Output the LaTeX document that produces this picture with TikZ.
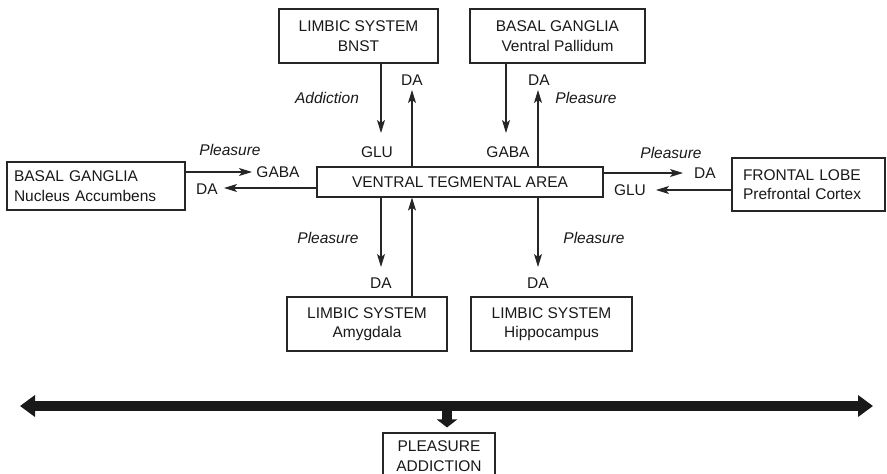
\documentclass[tikz,border=0pt]{standalone}
\usepackage{fontspec}
\setmainfont{Liberation Sans}
\usetikzlibrary{arrows.meta}
\begin{document}
\begin{tikzpicture}[x=1pt,y=-1pt,
  font=\fontsize{15.5}{19.5}\selectfont,
  box/.style={draw=black!85, line width=1.1pt, inner sep=0pt, align=center, text=black!90},
  lbl/.style={inner sep=0pt, text=black!90},
  itl/.style={lbl, font=\fontsize{15.5}{19.5}\selectfont\itshape},
  arr/.style={draw=black!85, line width=1.1pt, -{Stealth[length=13pt,width=8pt,inset=3pt]}},
  bar/.style={draw=black!90, line width=10pt},
]
\useasboundingbox (0,0) rectangle (887,474);
\fill[white] (0,0) rectangle (887,474);
\clip (0,0) rectangle (887,474);

% boxes
\node[box, minimum width=159pt, minimum height=54pt] (bnst) at (358.5,36) {LIMBIC SYSTEM\\BNST};
\node[box, minimum width=175pt, minimum height=54pt] (vp) at (557.5,36) {BASAL GANGLIA\\Ventral Pallidum};
\node[box, minimum width=286pt, minimum height=30pt] (vta) at (460,182) {VENTRAL TEGMENTAL AREA};
\node[box, align=left, text width=164pt, inner xsep=7pt, minimum height=48pt] (nacc) at (96,186) {BASAL GANGLIA\\Nucleus Accumbens};
\node[box, align=left, text width=131pt, inner xsep=11pt, minimum height=53pt] (fl) at (808.5,184.5) {FRONTAL LOBE\\Prefrontal Cortex};
\node[box, minimum width=160pt, minimum height=54pt] (amyg) at (367,324) {LIMBIC SYSTEM\\Amygdala};
\node[box, minimum width=161pt, minimum height=54pt] (hippo) at (551.5,324) {LIMBIC SYSTEM\\Hippocampus};
\node[box, minimum width=112pt, minimum height=46pt] (pa) at (439,456) {PLEASURE\\ADDICTION};

% labels
\node[itl] (addic) at (327,98) {Addiction};
\node[lbl] (glu1) at (377,152) {GLU};
\node[lbl] (da1) at (412,80) {DA};
\node[lbl] (gaba1) at (508,152) {GABA};
\node[lbl] (da2) at (539,80) {DA};
\node[itl] (pl1) at (586,98) {Pleasure};
\node[itl] (pl2) at (230,150) {Pleasure};
\node[lbl] (gaba2) at (278,172) {GABA};
\node[lbl] (da3) at (207,189) {DA};
\node[itl] (pl3) at (671,153) {Pleasure};
\node[lbl] (da4) at (705,173) {DA};
\node[lbl] (glu2) at (630,190) {GLU};
\node[itl] (pl4) at (328,238) {Pleasure};
\node[lbl] (da5) at (381,283) {DA};
\node[lbl] (da6) at (538,283) {DA};
\node[itl] (pl5) at (594,238) {Pleasure};

% free ends
\coordinate (t1) at (381,133);
\coordinate (t2) at (412,90);
\coordinate (t3) at (506,133);
\coordinate (t4) at (538,90);
\coordinate (t5) at (252,172);
\coordinate (t6) at (224,188);
\coordinate (t7) at (683,173);
\coordinate (t8) at (656,190);
\coordinate (t9) at (381,267);
\coordinate (t10) at (538,267);

% connectors
\draw[arr] (bnst.south -| t1) -- (t1);
\draw[arr] (vta.north -| t2) -- (t2);
\draw[arr] (vp.south -| t3) -- (t3);
\draw[arr] (vta.north -| t4) -- (t4);
\draw[arr] (t5 -| nacc.east) -- (t5);
\draw[arr] (t6 -| vta.west) -- (t6);
\draw[arr] (t7 -| vta.east) -- (t7);
\draw[arr] (t8 -| fl.west) -- (t8);
\draw[arr] (vta.south -| t9) -- (t9);
\draw[arr] (amyg.north -| t2) -- (vta.south -| t2);
\draw[arr] (vta.south -| t10) -- (t10);

% bottom bar
\coordinate (bl) at (20,406);
\coordinate (br) at (873,406);
\coordinate (bm) at (447,406);
\draw[bar, {Triangle[length=15pt,width=21pt]}-{Triangle[length=15pt,width=21pt]}] (bl) -- (br);
\draw[bar, -{Triangle[length=8pt,width=20pt]}, shorten >=5pt] (bm) -- (bm |- pa.north);
\end{tikzpicture}
\end{document}
